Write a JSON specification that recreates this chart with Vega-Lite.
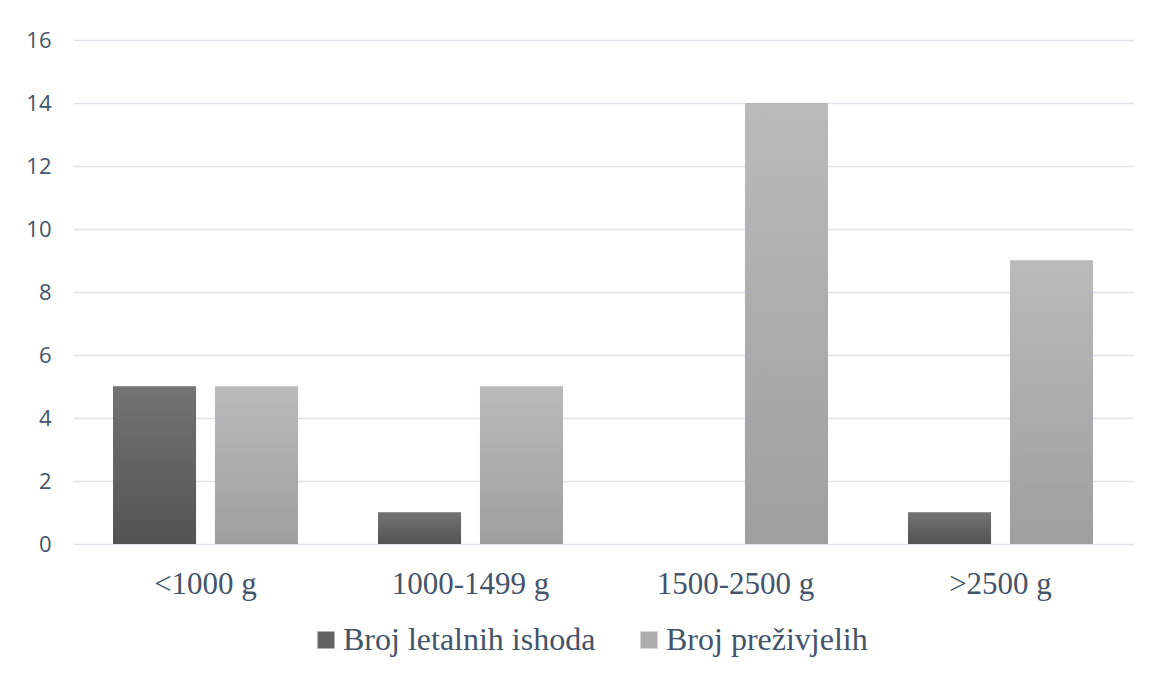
{
  "$schema": "https://vega.github.io/schema/vega-lite/v6.json",
  "width": 1060,
  "height": 504,
  "autosize": "none",
  "padding": {"left": 73, "top": 40, "right": 20, "bottom": 131},
  "background": "white",
  "config": {"view": {"stroke": null}},
  "data": {
    "values": [
      {"kat": "<1000 g", "serija": "Broj letalnih ishoda", "broj": 5},
      {"kat": "<1000 g", "serija": "Broj preživjelih", "broj": 5},
      {"kat": "1000-1499 g", "serija": "Broj letalnih ishoda", "broj": 1},
      {"kat": "1000-1499 g", "serija": "Broj preživjelih", "broj": 5},
      {"kat": "1500-2500 g", "serija": "Broj letalnih ishoda", "broj": 0},
      {"kat": "1500-2500 g", "serija": "Broj preživjelih", "broj": 14},
      {"kat": ">2500 g", "serija": "Broj letalnih ishoda", "broj": 1},
      {"kat": ">2500 g", "serija": "Broj preživjelih", "broj": 9}
    ]
  },
  "encoding": {
    "x": {
      "field": "kat",
      "type": "nominal",
      "sort": ["<1000 g", "1000-1499 g", "1500-2500 g", ">2500 g"],
      "scale": {"paddingInner": 0.302, "paddingOuter": 0.151},
      "axis": {
        "title": null,
        "labelAngle": 0,
        "labelFont": "Liberation Serif",
        "labelFontSize": 31,
        "labelColor": "#44546a",
        "labelBaseline": "alphabetic",
        "labelPadding": 49,
        "labelLimit": 0,
        "ticks": false,
        "domain": false,
        "grid": false
      }
    },
    "xOffset": {
      "field": "serija",
      "type": "nominal",
      "sort": ["Broj letalnih ishoda", "Broj preživjelih"],
      "scale": {"paddingInner": 0.186, "paddingOuter": 0}
    },
    "y": {
      "field": "broj",
      "type": "quantitative",
      "scale": {"domain": [0, 16], "nice": false},
      "axis": {
        "title": null,
        "values": [0, 2, 4, 6, 8, 10, 12, 14, 16],
        "labelFont": "Open Sans",
        "labelFontSize": 22,
        "labelColor": "#44546a",
        "labelPadding": 22,
        "ticks": false,
        "domain": false,
        "grid": true,
        "gridColor": "#dfe3e8",
        "gridWidth": 1.5
      }
    }
  },
  "layer": [
    {
      "mark": {"type": "bar"},
      "encoding": {
        "color": {
          "field": "serija",
          "type": "nominal",
          "scale": {
            "domain": ["Broj letalnih ishoda", "Broj preživjelih"],
            "range": ["#626262", "#acacac"]
          },
          "legend": {
            "title": null,
            "orient": "none",
            "direction": "horizontal",
            "legendX": 237,
            "legendY": 584,
            "symbolType": "square",
            "symbolSize": 289,
            "symbolStrokeWidth": 0,
            "labelFont": "Liberation Serif",
            "labelFontSize": 32,
            "labelColor": "#44546a",
            "labelOffset": 1,
            "labelLimit": 0,
            "columnPadding": 37
          }
        }
      }
    },
    {
      "transform": [{"filter": "datum.serija === 'Broj letalnih ishoda'"}],
      "mark": {
        "type": "bar",
        "color": {
          "gradient": "linear",
          "x1": 0, "y1": 0, "x2": 0, "y2": 1,
          "stops": [
            {"offset": 0, "color": "#737373"},
            {"offset": 1, "color": "#535353"}
          ]
        }
      }
    },
    {
      "transform": [{"filter": "datum.serija === 'Broj preživjelih'"}],
      "mark": {
        "type": "bar",
        "color": {
          "gradient": "linear",
          "x1": 0, "y1": 0, "x2": 0, "y2": 1,
          "stops": [
            {"offset": 0, "color": "#bababa"},
            {"offset": 1, "color": "#9f9f9f"}
          ]
        }
      }
    }
  ]
}
